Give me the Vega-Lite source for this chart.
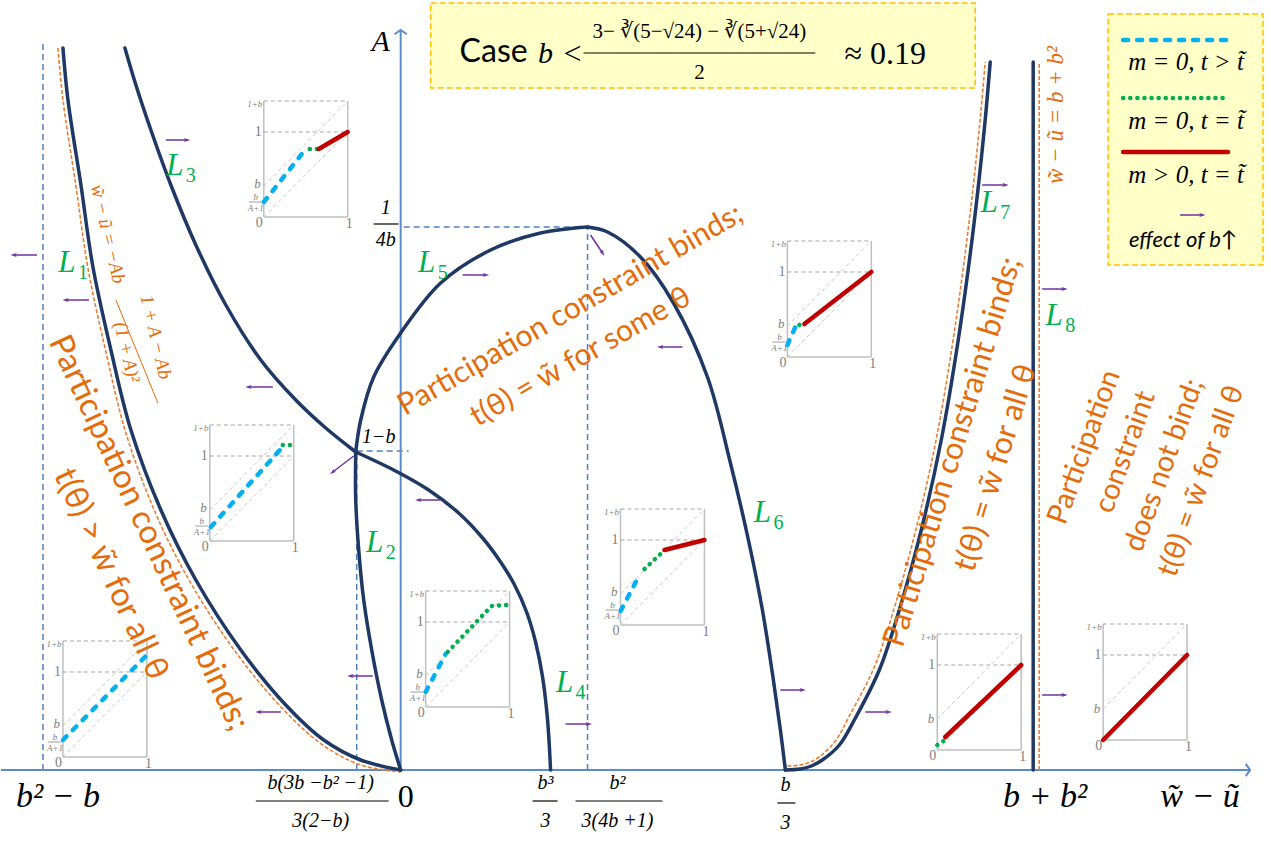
{
"$schema": "https://vega.github.io/schema/vega-lite/v6.json",
"width": 1271, "height": 841,
"autosize": {"type": "fit", "contains": "padding"},
"padding": 0,
"background": "white",
"config": {"view": {"stroke": null}},
"encoding": {
 "x": {"field": "x", "type": "quantitative", "scale": {"domain": [-400, 871], "nice": false, "zero": false}, "axis": null},
 "y": {"field": "y", "type": "quantitative", "scale": {"domain": [-71, 770], "nice": false, "zero": false}, "axis": null}
},
"datasets": {
 "boxes": [{"x": 30, "y": 682, "x2": 575, "y2": 767}, {"x": 708, "y": 505, "x2": 863, "y2": 756}],
 "guides": [
  {"x": -358, "y": 0, "x2": -358, "y2": 728},
  {"x": -44, "y": 0, "x2": -44, "y2": 319},
  {"x": 187, "y": 0, "x2": 187, "y2": 543},
  {"x": 3, "y": 543, "x2": 187, "y2": 543},
  {"x": -44, "y": 319, "x2": 8, "y2": 319}
 ],
 "axes": [{"x": -400, "y": 0, "x2": 850, "y2": 0}, {"x": 0, "y": 0, "x2": 0, "y2": 740}],
 "axisHeads": [{"x": 850, "y": 0, "ang": 90}, {"x": 0, "y": 740, "ang": 0}],
 "curves": [
  {"id": "L1", "x": -338, "y": 722}, {"id": "L1", "x": -333, "y": 670}, {"id": "L1", "x": -320, "y": 585}, {"id": "L1", "x": -308, "y": 503}, {"id": "L1", "x": -290, "y": 420}, {"id": "L1", "x": -270, "y": 340}, {"id": "L1", "x": -240, "y": 260}, {"id": "L1", "x": -205, "y": 190}, {"id": "L1", "x": -160, "y": 120}, {"id": "L1", "x": -115, "y": 65}, {"id": "L1", "x": -77, "y": 30}, {"id": "L1", "x": -40, "y": 10}, {"id": "L1", "x": 0, "y": 0},
  {"id": "L3", "x": -276, "y": 722}, {"id": "L3", "x": -265, "y": 685}, {"id": "L3", "x": -250, "y": 640}, {"id": "L3", "x": -230, "y": 585}, {"id": "L3", "x": -205, "y": 525}, {"id": "L3", "x": -175, "y": 465}, {"id": "L3", "x": -140, "y": 410}, {"id": "L3", "x": -105, "y": 370}, {"id": "L3", "x": -75, "y": 342}, {"id": "L3", "x": -45, "y": 318},
  {"id": "L4", "x": -45, "y": 318}, {"id": "L4", "x": -7, "y": 300}, {"id": "L4", "x": 28, "y": 280}, {"id": "L4", "x": 58, "y": 257}, {"id": "L4", "x": 82, "y": 232}, {"id": "L4", "x": 100, "y": 208}, {"id": "L4", "x": 114, "y": 185}, {"id": "L4", "x": 126, "y": 158}, {"id": "L4", "x": 135, "y": 128}, {"id": "L4", "x": 142, "y": 93}, {"id": "L4", "x": 147, "y": 50}, {"id": "L4", "x": 150, "y": 0},
  {"id": "L2", "x": -45, "y": 318}, {"id": "L2", "x": -45, "y": 270}, {"id": "L2", "x": -42, "y": 220}, {"id": "L2", "x": -37, "y": 170}, {"id": "L2", "x": -29, "y": 120}, {"id": "L2", "x": -19, "y": 70}, {"id": "L2", "x": -9, "y": 30}, {"id": "L2", "x": 0, "y": 0},
  {"id": "L5", "x": -45, "y": 318}, {"id": "L5", "x": -40, "y": 350}, {"id": "L5", "x": -27, "y": 393}, {"id": "L5", "x": 0, "y": 437}, {"id": "L5", "x": 40, "y": 487}, {"id": "L5", "x": 90, "y": 520}, {"id": "L5", "x": 140, "y": 537}, {"id": "L5", "x": 187, "y": 543},
  {"id": "L6", "x": 187, "y": 543}, {"id": "L6", "x": 207, "y": 538}, {"id": "L6", "x": 240, "y": 513}, {"id": "L6", "x": 273, "y": 467}, {"id": "L6", "x": 307, "y": 393}, {"id": "L6", "x": 330, "y": 307}, {"id": "L6", "x": 348, "y": 230}, {"id": "L6", "x": 362, "y": 160}, {"id": "L6", "x": 373, "y": 90}, {"id": "L6", "x": 380, "y": 40}, {"id": "L6", "x": 385, "y": 0},
  {"id": "L7", "x": 385, "y": 0}, {"id": "L7", "x": 400, "y": 1}, {"id": "L7", "x": 411, "y": 4}, {"id": "L7", "x": 422, "y": 10}, {"id": "L7", "x": 439, "y": 25}, {"id": "L7", "x": 454, "y": 50}, {"id": "L7", "x": 479, "y": 100}, {"id": "L7", "x": 499, "y": 160}, {"id": "L7", "x": 521, "y": 240}, {"id": "L7", "x": 541, "y": 330}, {"id": "L7", "x": 558, "y": 430}, {"id": "L7", "x": 573, "y": 540}, {"id": "L7", "x": 584, "y": 640}, {"id": "L7", "x": 590, "y": 708},
  {"id": "L8", "x": 633, "y": 0}, {"id": "L8", "x": 633, "y": 708}
 ],
 "orange": [
  {"id": "O1", "x": -343, "y": 722}, {"id": "O1", "x": -338, "y": 670}, {"id": "O1", "x": -325, "y": 584}, {"id": "O1", "x": -313, "y": 502}, {"id": "O1", "x": -295, "y": 418}, {"id": "O1", "x": -275, "y": 337}, {"id": "O1", "x": -245, "y": 256}, {"id": "O1", "x": -209, "y": 185}, {"id": "O1", "x": -163, "y": 115}, {"id": "O1", "x": -117, "y": 60}, {"id": "O1", "x": -78, "y": 25}, {"id": "O1", "x": -40, "y": 5}, {"id": "O1", "x": 0, "y": -2},
  {"id": "O7", "x": 387, "y": 4}, {"id": "O7", "x": 400, "y": 5}, {"id": "O7", "x": 410, "y": 8}, {"id": "O7", "x": 420, "y": 14}, {"id": "O7", "x": 435, "y": 29}, {"id": "O7", "x": 449, "y": 54}, {"id": "O7", "x": 474, "y": 103}, {"id": "O7", "x": 494, "y": 162}, {"id": "O7", "x": 516, "y": 242}, {"id": "O7", "x": 536, "y": 331}, {"id": "O7", "x": 553, "y": 431}, {"id": "O7", "x": 568, "y": 541}, {"id": "O7", "x": 579, "y": 641}, {"id": "O7", "x": 585, "y": 708},
  {"id": "O8", "x": 639, "y": 0}, {"id": "O8", "x": 639, "y": 708}
 ],
 "arrows": [
  {"x": -235, "y": 630, "x2": -214, "y2": 630, "ang": 90},
  {"x": -364, "y": 515, "x2": -387, "y2": 515, "ang": 270},
  {"x": -312, "y": 470, "x2": -335, "y2": 470, "ang": 270},
  {"x": -128, "y": 383, "x2": -152, "y2": 383, "ang": 270},
  {"x": -47, "y": 314, "x2": -68, "y2": 298, "ang": 233},
  {"x": -120, "y": 58, "x2": -142, "y2": 58, "ang": 270},
  {"x": -28, "y": 94, "x2": -50, "y2": 94, "ang": 270},
  {"x": 40, "y": 270, "x2": 18, "y2": 270, "ang": 270},
  {"x": 62, "y": 495, "x2": 85, "y2": 495, "ang": 90},
  {"x": 190, "y": 535, "x2": 202, "y2": 517, "ang": 150},
  {"x": 282, "y": 423, "x2": 260, "y2": 423, "ang": 270},
  {"x": 165, "y": 46, "x2": 188, "y2": 46, "ang": 90},
  {"x": 380, "y": 80, "x2": 402, "y2": 80, "ang": 90},
  {"x": 465, "y": 58, "x2": 488, "y2": 58, "ang": 90},
  {"x": 582, "y": 585, "x2": 605, "y2": 585, "ang": 90},
  {"x": 642, "y": 481, "x2": 664, "y2": 481, "ang": 90},
  {"x": 642, "y": 75, "x2": 664, "y2": 75, "ang": 90},
  {"x": 780, "y": 555, "x2": 802, "y2": 555, "ang": 90}
 ],
 "frameSolid": [
  {"x": -137, "y": 553, "x2": -137, "y2": 669}, {"x": -53, "y": 553, "x2": -53, "y2": 669}, {"x": -137, "y": 553, "x2": -53, "y2": 553}, {"x": -152, "y": 568, "x2": -139, "y2": 568},
  {"x": -191, "y": 229, "x2": -191, "y2": 345}, {"x": -107, "y": 229, "x2": -107, "y2": 345}, {"x": -191, "y": 229, "x2": -107, "y2": 229}, {"x": -206, "y": 244, "x2": -193, "y2": 244},
  {"x": -338, "y": 13, "x2": -338, "y2": 129}, {"x": -254, "y": 13, "x2": -254, "y2": 129}, {"x": -338, "y": 13, "x2": -254, "y2": 13}, {"x": -353, "y": 28, "x2": -340, "y2": 28},
  {"x": 25, "y": 63, "x2": 25, "y2": 179}, {"x": 109, "y": 63, "x2": 109, "y2": 179}, {"x": 25, "y": 63, "x2": 109, "y2": 63}, {"x": 10, "y": 78, "x2": 23, "y2": 78},
  {"x": 220, "y": 145, "x2": 220, "y2": 261}, {"x": 304, "y": 145, "x2": 304, "y2": 261}, {"x": 220, "y": 145, "x2": 304, "y2": 145}, {"x": 205, "y": 160, "x2": 218, "y2": 160},
  {"x": 387, "y": 413, "x2": 387, "y2": 529}, {"x": 471, "y": 413, "x2": 471, "y2": 529}, {"x": 387, "y": 413, "x2": 471, "y2": 413}, {"x": 372, "y": 428, "x2": 385, "y2": 428},
  {"x": 537, "y": 20, "x2": 537, "y2": 136}, {"x": 621, "y": 20, "x2": 621, "y2": 136}, {"x": 537, "y": 20, "x2": 621, "y2": 20},
  {"x": 703, "y": 30, "x2": 703, "y2": 146}, {"x": 787, "y": 30, "x2": 787, "y2": 146}, {"x": 703, "y": 30, "x2": 787, "y2": 30}
 ],
 "frameDash": [
  {"x": -137, "y": 669, "x2": -53, "y2": 669}, {"x": -137, "y": 638, "x2": -53, "y2": 638},
  {"x": -191, "y": 345, "x2": -107, "y2": 345}, {"x": -191, "y": 314, "x2": -107, "y2": 314},
  {"x": -338, "y": 129, "x2": -254, "y2": 129}, {"x": -338, "y": 98, "x2": -254, "y2": 98},
  {"x": 25, "y": 179, "x2": 109, "y2": 179}, {"x": 25, "y": 148, "x2": 109, "y2": 148},
  {"x": 220, "y": 261, "x2": 304, "y2": 261}, {"x": 220, "y": 230, "x2": 304, "y2": 230},
  {"x": 387, "y": 529, "x2": 471, "y2": 529}, {"x": 387, "y": 498, "x2": 471, "y2": 498},
  {"x": 537, "y": 136, "x2": 621, "y2": 136}, {"x": 537, "y": 105, "x2": 621, "y2": 105},
  {"x": 703, "y": 146, "x2": 787, "y2": 146}, {"x": 703, "y": 115, "x2": 787, "y2": 115}
 ],
 "frameDiag": [
  {"x": -137, "y": 584, "x2": -53, "y2": 669}, {"x": -137, "y": 553, "x2": -53, "y2": 638},
  {"x": -191, "y": 260, "x2": -107, "y2": 345}, {"x": -191, "y": 229, "x2": -107, "y2": 314},
  {"x": -338, "y": 44, "x2": -254, "y2": 129}, {"x": -338, "y": 13, "x2": -254, "y2": 98},
  {"x": 25, "y": 94, "x2": 109, "y2": 179}, {"x": 25, "y": 63, "x2": 109, "y2": 148},
  {"x": 220, "y": 176, "x2": 304, "y2": 261}, {"x": 220, "y": 145, "x2": 304, "y2": 230},
  {"x": 387, "y": 444, "x2": 471, "y2": 529}, {"x": 387, "y": 413, "x2": 471, "y2": 498},
  {"x": 537, "y": 51, "x2": 621, "y2": 136}, {"x": 537, "y": 20, "x2": 621, "y2": 105},
  {"x": 703, "y": 61, "x2": 787, "y2": 146}, {"x": 703, "y": 30, "x2": 787, "y2": 115}
 ],
 "blueSegs": [
  {"id": "A", "x": -137, "y": 568}, {"id": "A", "x": -95, "y": 621},
  {"id": "B", "x": -190, "y": 243}, {"id": "B", "x": -120, "y": 321},
  {"id": "C", "x": -338, "y": 30}, {"id": "C", "x": -254, "y": 115},
  {"id": "D", "x": 25, "y": 78}, {"id": "D", "x": 45, "y": 116},
  {"id": "E", "x": 220, "y": 159}, {"id": "E", "x": 239, "y": 195},
  {"id": "F", "x": 387, "y": 425}, {"id": "F", "x": 395, "y": 443},
  {"id": "lg", "x": 723, "y": 730}, {"id": "lg", "x": 828, "y": 730}
 ],
 "greenSegs": [
  {"id": "A", "x": -91, "y": 621}, {"id": "A", "x": -83, "y": 621},
  {"id": "B", "x": -118, "y": 325}, {"id": "B", "x": -110, "y": 325},
  {"id": "D", "x": 47, "y": 118}, {"id": "D", "x": 91, "y": 164}, {"id": "D", "x": 106, "y": 165},
  {"id": "E", "x": 244, "y": 201}, {"id": "E", "x": 262, "y": 218},
  {"id": "F", "x": 399, "y": 445}, {"id": "F", "x": 399.3, "y": 445.2},
  {"id": "G", "x": 537, "y": 25}, {"id": "G", "x": 543, "y": 29},
  {"id": "lg", "x": 723, "y": 672}, {"id": "lg", "x": 828, "y": 672}
 ],
 "redSegs": [
  {"id": "A", "x": -82, "y": 621}, {"id": "A", "x": -53, "y": 638},
  {"id": "E", "x": 264, "y": 220}, {"id": "E", "x": 304, "y": 230},
  {"id": "F", "x": 404, "y": 446}, {"id": "F", "x": 471, "y": 498},
  {"id": "G", "x": 545, "y": 33}, {"id": "G", "x": 621, "y": 105},
  {"id": "H", "x": 703, "y": 30}, {"id": "H", "x": 787, "y": 115},
  {"id": "lg", "x": 723, "y": 618}, {"id": "lg", "x": 828, "y": 618}
 ],
 "insetBig": [
  {"x": -139, "y": 638, "t": "1"}, {"x": -138, "y": 547, "t": "0"}, {"x": -48, "y": 546, "t": "1"},
  {"x": -193, "y": 314, "t": "1"}, {"x": -192, "y": 223, "t": "0"}, {"x": -102, "y": 222, "t": "1"},
  {"x": -340, "y": 98, "t": "1"}, {"x": -339, "y": 7, "t": "0"}, {"x": -249, "y": 6, "t": "1"},
  {"x": 23, "y": 148, "t": "1"}, {"x": 24, "y": 57, "t": "0"}, {"x": 114, "y": 56, "t": "1"},
  {"x": 218, "y": 230, "t": "1"}, {"x": 219, "y": 139, "t": "0"}, {"x": 309, "y": 138, "t": "1"},
  {"x": 385, "y": 498, "t": "1"}, {"x": 386, "y": 407, "t": "0"}, {"x": 476, "y": 406, "t": "1"},
  {"x": 535, "y": 105, "t": "1"}, {"x": 536, "y": 14, "t": "0"}, {"x": 626, "y": 13, "t": "1"},
  {"x": 701, "y": 115, "t": "1"}, {"x": 702, "y": 24, "t": "0"}, {"x": 792, "y": 23, "t": "1"}
 ],
 "insetB": [
  {"x": -140, "y": 586, "t": "b"}, {"x": -194, "y": 262, "t": "b"}, {"x": -341, "y": 46, "t": "b"}, {"x": 22, "y": 96, "t": "b"},
  {"x": 217, "y": 178, "t": "b"}, {"x": 384, "y": 446, "t": "b"}, {"x": 534, "y": 51, "t": "b"}, {"x": 700, "y": 61, "t": "b"}
 ],
 "insetSmall": [
  {"x": -146, "y": 666, "t": "1+b"}, {"x": -145, "y": 573, "t": "b"}, {"x": -145, "y": 562, "t": "A+1"},
  {"x": -200, "y": 342, "t": "1+b"}, {"x": -199, "y": 249, "t": "b"}, {"x": -199, "y": 238, "t": "A+1"},
  {"x": -347, "y": 126, "t": "1+b"}, {"x": -346, "y": 33, "t": "b"}, {"x": -346, "y": 22, "t": "A+1"},
  {"x": 16, "y": 176, "t": "1+b"}, {"x": 17, "y": 83, "t": "b"}, {"x": 17, "y": 72, "t": "A+1"},
  {"x": 211, "y": 258, "t": "1+b"}, {"x": 212, "y": 165, "t": "b"}, {"x": 212, "y": 154, "t": "A+1"},
  {"x": 378, "y": 526, "t": "1+b"}, {"x": 379, "y": 433, "t": "b"}, {"x": 379, "y": 422, "t": "A+1"},
  {"x": 528, "y": 133, "t": "1+b"}, {"x": 694, "y": 143, "t": "1+b"}
 ],
 "bars": [
  {"x": -145, "y": -31, "x2": -12, "y2": -31}, {"x": 132, "y": -31, "x2": 157, "y2": -31},
  {"x": 175, "y": -31, "x2": 262, "y2": -31}, {"x": 377, "y": -33, "x2": 395, "y2": -33},
  {"x": -27, "y": 546, "x2": -2, "y2": 546}, {"x": 183, "y": 717, "x2": 415, "y2": 717}
 ],
 "mathBig": [
  {"x": -343, "y": -27, "t": "b² − b"}, {"x": 645, "y": -27, "t": "b + b²"}, {"x": 800, "y": -27, "t": "w̃ − ũ"}
 ],
 "math30": [{"x": -20, "y": 728, "t": "A"}, {"x": 145, "y": 716, "t": "b"}],
 "upright": [{"x": 5, "y": -27, "t": "0"}, {"x": 172, "y": 716, "t": "<"}, {"x": 485, "y": 716, "t": "≈ 0.19"}],
 "fracs": [
  {"x": -80, "y": -13, "t": "b(3b −b² −1)"}, {"x": -80, "y": -51, "t": "3(2−b)"},
  {"x": 145, "y": -13, "t": "b³"}, {"x": 145, "y": -51, "t": "3"},
  {"x": 217, "y": -13, "t": "b²"}, {"x": 217, "y": -51, "t": "3(4b +1)"},
  {"x": 385, "y": -15, "t": "b"}, {"x": 385, "y": -53, "t": "3"},
  {"x": -15, "y": 562, "t": "1"}, {"x": -15, "y": 530, "t": "4b"},
  {"x": -22, "y": 333, "t": "1−b"}
 ],
 "titleFrac": [{"x": 299, "y": 738, "t": "3− ∛(5−√24) − ∛(5+√24)"}, {"x": 299, "y": 697, "t": "2"}],
 "caseWord": [{"x": 93, "y": 718, "t": "Case"}],
 "legendText": [
  {"x": 786, "y": 708, "t": "m = 0, t > t̃"}, {"x": 786, "y": 649, "t": "m = 0, t = t̃"}, {"x": 786, "y": 595, "t": "m > 0, t = t̃"}
 ],
 "effectText": [{"x": 783, "y": 530, "t": "effect of b↑"}],
 "greenL": [
  {"x": -334, "y": 507, "t": "L"}, {"x": -26, "y": 227, "t": "L"}, {"x": -226, "y": 604, "t": "L"}, {"x": 164, "y": 87, "t": "L"},
  {"x": 26, "y": 507, "t": "L"}, {"x": 362, "y": 257, "t": "L"}, {"x": 589, "y": 567, "t": "L"}, {"x": 654, "y": 454, "t": "L"}
 ],
 "greenSub": [
  {"x": -318, "y": 497, "t": "1"}, {"x": -10, "y": 217, "t": "2"}, {"x": -210, "y": 594, "t": "3"}, {"x": 180, "y": 77, "t": "4"},
  {"x": 42, "y": 497, "t": "5"}, {"x": 378, "y": 247, "t": "6"}, {"x": 605, "y": 557, "t": "7"}, {"x": 670, "y": 444, "t": "8"}
 ],
 "formula1": [{"x": -293, "y": 536, "t": "w̃ − ũ = −Ab"}, {"x": -245, "y": 433, "t": "1 + A − Ab"}, {"x": -274, "y": 418, "t": "(1 + A)²"}],
 "formulaBar": [{"x": -285, "y": 470, "x2": -243, "y2": 367}],
 "leftBlock": [{"x": -252, "y": 237, "t": "Participation constraint binds;"}, {"x": -290, "y": 196, "t": "t(θ) > w̃ for all θ"}],
 "centerBlock": [{"x": 170, "y": 460, "t": "Participation constraint binds;"}, {"x": 180, "y": 413, "t": "t(θ) = w̃ for some θ"}],
 "rightBlock": [{"x": 553, "y": 318, "t": "Participation constraint binds;"}, {"x": 596, "y": 302, "t": "t(θ) = w̃ for all θ"}],
 "farBlock": [{"x": 684, "y": 323, "t": "Participation"}, {"x": 725, "y": 318, "t": "constraint"}, {"x": 764, "y": 305, "t": "does not bind;"}, {"x": 801, "y": 289, "t": "t(θ) = w̃ for all θ"}],
 "l8Formula": [{"x": 656, "y": 655, "t": "w̃ − ũ = b + b²"}]
},
"layer": [
 {"data": {"name": "boxes"}, "mark": {"type": "rect", "fill": "#ffffc8", "stroke": "#ffc000", "strokeDash": [6, 3], "strokeWidth": 1.5},
  "encoding": {"x2": {"field": "x2"}, "y2": {"field": "y2"}}},
 {"data": {"name": "guides"}, "mark": {"type": "rule", "color": "#4f81bd", "strokeDash": [6, 4], "strokeWidth": 1.5},
  "encoding": {"x2": {"field": "x2"}, "y2": {"field": "y2"}}},
 {"data": {"name": "axes"}, "mark": {"type": "rule", "color": "#5b8bc9", "strokeWidth": 2},
  "encoding": {"x2": {"field": "x2"}, "y2": {"field": "y2"}}},
 {"data": {"name": "axisHeads"}, "mark": {"type": "point", "shape": "M-1,0.7L0,0L1,0.7", "filled": false, "stroke": "#5b8bc9", "strokeWidth": 2, "size": 150, "opacity": 1},
  "encoding": {"angle": {"field": "ang", "type": "quantitative", "scale": null}}},
 {"data": {"name": "frameSolid"}, "mark": {"type": "rule", "color": "#bfbfbf", "strokeWidth": 1.5},
  "encoding": {"x2": {"field": "x2"}, "y2": {"field": "y2"}}},
 {"data": {"name": "frameDash"}, "mark": {"type": "rule", "color": "#a6a6a6", "strokeDash": [4, 3], "strokeWidth": 1.2},
  "encoding": {"x2": {"field": "x2"}, "y2": {"field": "y2"}}},
 {"data": {"name": "frameDiag"}, "mark": {"type": "rule", "color": "#c8c8c8", "strokeDash": [4, 3], "strokeWidth": 1},
  "encoding": {"x2": {"field": "x2"}, "y2": {"field": "y2"}}},
 {"data": {"name": "blueSegs"}, "mark": {"type": "line", "color": "#00b0f0", "strokeWidth": 4.5, "strokeDash": [5, 9], "strokeCap": "round"},
  "encoding": {"detail": {"field": "id"}, "order": {"value": null}}},
 {"data": {"name": "greenSegs"}, "mark": {"type": "line", "color": "#00b050", "strokeWidth": 4.5, "strokeDash": [0.1, 7], "strokeCap": "round"},
  "encoding": {"detail": {"field": "id"}, "order": {"value": null}}},
 {"data": {"name": "redSegs"}, "mark": {"type": "line", "color": "#c00000", "strokeWidth": 4.5, "strokeCap": "round"},
  "encoding": {"detail": {"field": "id"}, "order": {"value": null}}},
 {"data": {"name": "orange"}, "mark": {"type": "line", "color": "#ed7d31", "strokeWidth": 1.6, "strokeDash": [4, 2], "interpolate": "catmull-rom"},
  "encoding": {"detail": {"field": "id"}, "order": {"value": null}}},
 {"data": {"name": "curves"}, "mark": {"type": "line", "color": "#1f3864", "strokeWidth": 3.5, "strokeCap": "round", "strokeJoin": "round", "interpolate": "catmull-rom"},
  "encoding": {"detail": {"field": "id"}, "order": {"value": null}}},
 {"data": {"name": "arrows"}, "mark": {"type": "rule", "color": "#7030a0", "strokeWidth": 1.5},
  "encoding": {"x2": {"field": "x2"}, "y2": {"field": "y2"}}},
 {"data": {"name": "arrows"}, "mark": {"type": "point", "shape": "M0,-1L0.55,0.8L0,0.4L-0.55,0.8Z", "filled": true, "color": "#7030a0", "size": 50, "opacity": 1},
  "encoding": {
   "x": {"field": "x2", "type": "quantitative", "scale": {"domain": [-400, 871], "nice": false, "zero": false}, "axis": null},
   "y": {"field": "y2", "type": "quantitative", "scale": {"domain": [-71, 770], "nice": false, "zero": false}, "axis": null},
   "angle": {"field": "ang", "type": "quantitative", "scale": null}}},
 {"data": {"name": "insetBig"}, "mark": {"type": "text", "font": "Liberation Serif", "fontSize": 14, "color": "#808080", "align": "right", "baseline": "middle"},
  "encoding": {"text": {"field": "t"}}},
 {"data": {"name": "insetB"}, "mark": {"type": "text", "font": "Liberation Serif", "fontStyle": "italic", "fontSize": 13, "color": "#808080", "align": "right", "baseline": "middle"},
  "encoding": {"text": {"field": "t"}}},
 {"data": {"name": "insetSmall"}, "mark": {"type": "text", "font": "Liberation Serif", "fontStyle": "italic", "fontSize": 9, "color": "#808080", "align": "center", "baseline": "middle"},
  "encoding": {"text": {"field": "t"}}},
 {"data": {"name": "bars"}, "mark": {"type": "rule", "color": "black", "strokeWidth": 1.2},
  "encoding": {"x2": {"field": "x2"}, "y2": {"field": "y2"}}},
 {"data": {"name": "mathBig"}, "mark": {"type": "text", "font": "Liberation Serif", "fontStyle": "italic", "fontSize": 34, "color": "black", "align": "center", "baseline": "middle"},
  "encoding": {"text": {"field": "t"}}},
 {"data": {"name": "math30"}, "mark": {"type": "text", "font": "Liberation Serif", "fontStyle": "italic", "fontSize": 30, "color": "black", "align": "center", "baseline": "middle"},
  "encoding": {"text": {"field": "t"}}},
 {"data": {"name": "upright"}, "mark": {"type": "text", "font": "Liberation Serif", "fontSize": 32, "color": "black", "align": "center", "baseline": "middle"},
  "encoding": {"text": {"field": "t"}}},
 {"data": {"name": "fracs"}, "mark": {"type": "text", "font": "Liberation Serif", "fontStyle": "italic", "fontSize": 20, "color": "black", "align": "center", "baseline": "middle"},
  "encoding": {"text": {"field": "t"}}},
 {"data": {"name": "titleFrac"}, "mark": {"type": "text", "font": "Liberation Serif", "fontSize": 21, "color": "black", "align": "center", "baseline": "middle"},
  "encoding": {"text": {"field": "t"}}},
 {"data": {"name": "caseWord"}, "mark": {"type": "text", "font": "Lato", "fontSize": 32, "color": "black", "align": "center", "baseline": "middle"},
  "encoding": {"text": {"field": "t"}}},
 {"data": {"name": "legendText"}, "mark": {"type": "text", "font": "Liberation Serif", "fontStyle": "italic", "fontSize": 25, "color": "black", "align": "center", "baseline": "middle"},
  "encoding": {"text": {"field": "t"}}},
 {"data": {"name": "effectText"}, "mark": {"type": "text", "font": "Lato", "fontStyle": "italic", "fontSize": 22, "color": "black", "align": "center", "baseline": "middle"},
  "encoding": {"text": {"field": "t"}}},
 {"data": {"name": "greenL"}, "mark": {"type": "text", "font": "Liberation Serif", "fontStyle": "italic", "fontSize": 31, "color": "#00b050", "align": "center", "baseline": "middle"},
  "encoding": {"text": {"field": "t"}}},
 {"data": {"name": "greenSub"}, "mark": {"type": "text", "font": "Liberation Serif", "fontSize": 20, "color": "#00b050", "align": "center", "baseline": "middle"},
  "encoding": {"text": {"field": "t"}}},
 {"data": {"name": "formula1"}, "mark": {"type": "text", "font": "Liberation Serif", "fontStyle": "italic", "fontSize": 19, "color": "#e46c0a", "align": "center", "baseline": "middle", "angle": 77},
  "encoding": {"text": {"field": "t"}}},
 {"data": {"name": "formulaBar"}, "mark": {"type": "rule", "color": "#e46c0a", "strokeWidth": 1},
  "encoding": {"x2": {"field": "x2"}, "y2": {"field": "y2"}}},
 {"data": {"name": "leftBlock"}, "mark": {"type": "text", "font": "Lato", "fontSize": 33, "color": "#e46c0a", "align": "center", "baseline": "middle", "angle": 65},
  "encoding": {"text": {"field": "t"}}},
 {"data": {"name": "centerBlock"}, "mark": {"type": "text", "font": "Lato", "fontSize": 30, "color": "#e46c0a", "align": "center", "baseline": "middle", "angle": -30},
  "encoding": {"text": {"field": "t"}}},
 {"data": {"name": "rightBlock"}, "mark": {"type": "text", "font": "Lato", "fontSize": 31, "color": "#e46c0a", "align": "center", "baseline": "middle", "angle": -73},
  "encoding": {"text": {"field": "t"}}},
 {"data": {"name": "farBlock"}, "mark": {"type": "text", "font": "Lato", "fontSize": 29, "color": "#e46c0a", "align": "center", "baseline": "middle", "angle": -70},
  "encoding": {"text": {"field": "t"}}},
 {"data": {"name": "l8Formula"}, "mark": {"type": "text", "font": "Liberation Serif", "fontStyle": "italic", "fontSize": 23, "color": "#e46c0a", "align": "center", "baseline": "middle", "angle": -90},
  "encoding": {"text": {"field": "t"}}}
]
}
